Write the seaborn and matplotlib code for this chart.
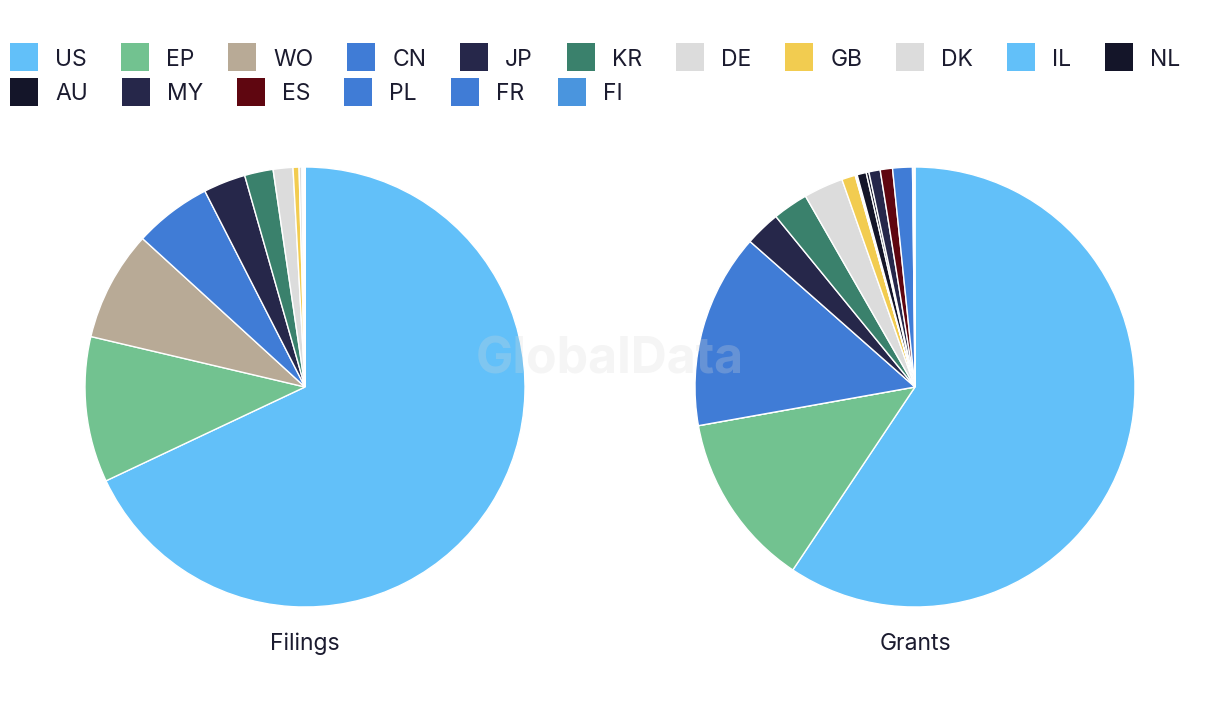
import matplotlib
matplotlib.use("Agg")
import matplotlib.pyplot as plt
import seaborn as sns
from matplotlib.patches import Rectangle

sns.set_theme(style="white")
plt.rcParams['font.family'] = ['Inter', 'DejaVu Sans']

# ---- data -------------------------------------------------------------
countries = ["US", "EP", "WO", "CN", "JP", "KR", "DE", "GB", "DK",
             "IL", "NL", "AU", "MY", "ES", "PL", "FR", "FI"]
colors = ["#62C0F9", "#72C290", "#B8AA96", "#407CD6", "#26274A", "#3A816C",
          "#DCDCDC", "#F2CC50", "#DCDCDC", "#62C0F9", "#141529", "#141529",
          "#26274A", "#5F0610", "#407CD6", "#407CD6", "#4A95DE"]
filings = [68.0, 10.7, 8.1, 5.7, 3.1, 2.1, 1.45, 0.44, 0.2,
           0.08, 0.03, 0.02, 0.02, 0.02, 0.02, 0.02, 0.02]
grants = [59.3, 12.8, 0.0, 14.3, 2.6, 2.6, 2.9, 1.0, 0.05,
          0.1, 0.67, 0.2, 0.83, 0.9, 1.45, 0.1, 0.08]
panel_titles = ["Filings", "Grants"]

W, H = 1220, 720
fig = plt.figure(figsize=(W / 100, H / 100), dpi=100)
fig.patch.set_facecolor("white")

text_color = "#1B1B2F"

# ---- pies -------------------------------------------------------------
centers_px = [(305, 387), (915, 387)]
radius_px = 220
for (cx, cy), values, title in zip(centers_px, [filings, grants], panel_titles):
    left = (cx - radius_px) / W
    bottom = (H - cy - radius_px) / H
    ax = fig.add_axes([left, bottom, 2 * radius_px / W, 2 * radius_px / H])
    ax.pie(values, colors=colors, startangle=90, counterclock=False,
           wedgeprops=dict(edgecolor="white", linewidth=1.0, antialiased=True))
    ax.set_xlim(-1, 1)
    ax.set_ylim(-1, 1)
    ax.set_aspect("auto")
    ax.axis("off")
    fig.text(cx / W, 1 - 644 / H, title, ha="center", va="center",
             fontsize=16.5, color=text_color)

# ---- watermark --------------------------------------------------------
fig.text(610 / W, 1 - 360 / H, "GlobalData", ha="center", va="center",
         fontsize=36, fontweight="bold", color="#d8d8d8", alpha=0.25, zorder=10)

# ---- flowing legend ---------------------------------------------------
renderer = fig.canvas.get_renderer()
x = 10
row_y = [57, 92]
row = 0
sq = 28
for name, col in zip(countries, colors):
    t = fig.text(0, 0, name, fontsize=16.5, color=text_color, va="center")
    w = t.get_window_extent(renderer).width
    if x + sq + 17 + w > W - 10:
        row += 1
        x = 10
    y = row_y[row]
    fig.patches.append(Rectangle((x / W, 1 - (y + sq / 2) / H), sq / W, sq / H,
                                 transform=fig.transFigure, facecolor=col,
                                 edgecolor="none", figure=fig))
    t.set_position(((x + sq + 17) / W, 1 - (y + 2.5) / H))
    x += sq + 17 + w + 34

fig.savefig("out.png", dpi=100, facecolor="white")
